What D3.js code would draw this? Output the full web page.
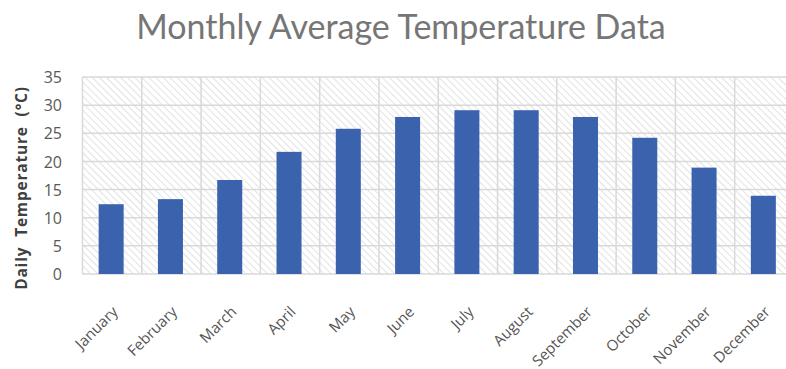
<!DOCTYPE html>
<html>
<head>
<meta charset="utf-8">
<script src="https://cdn.jsdelivr.net/npm/d3@7/dist/d3.min.js"></script>
<style>
  html, body { margin: 0; padding: 0; background: #fff; overflow: hidden; }
  svg { display: block; }
</style>
</head>
<body>
<svg id="chart" width="786" height="369"></svg>
<script>
// Monthly average temperatures (°C)
const months = ["January", "February", "March", "April", "May", "June",
  "July", "August", "September", "October", "November", "December"];
const temps = [12.4, 13.3, 16.7, 21.7, 25.8, 27.9, 29.1, 29.1, 27.9, 24.2, 18.9, 13.9];
const yTicks = [0, 5, 10, 15, 20, 25, 30, 35];

const svg = d3.select("#chart");
const margin = { left: 82.5, top: 77, bottom: 274 };
const plotRight = 794;

const x = d3.scaleBand().domain(months).range([margin.left, plotRight]).paddingInner(0).paddingOuter(0);
const y = d3.scaleLinear().domain([0, 35]).range([margin.bottom, margin.top]);

// Diagonal hatch fill for the plot area
const defs = svg.append("defs");
const pat = defs.append("pattern")
  .attr("id", "hatch").attr("patternUnits", "userSpaceOnUse")
  .attr("width", 5).attr("height", 5)
  .attr("patternTransform", "rotate(-45)");
pat.append("rect").attr("width", 5).attr("height", 5).attr("fill", "#ffffff");
pat.append("line").attr("x1", 0).attr("y1", 0).attr("x2", 0).attr("y2", 5)
  .attr("stroke", "#d6d6d6").attr("stroke-width", 1.4);

svg.append("rect")
  .attr("x", margin.left).attr("y", margin.top)
  .attr("width", plotRight - margin.left).attr("height", margin.bottom - margin.top)
  .attr("fill", "url(#hatch)");

// Horizontal gridlines
svg.append("g").selectAll("line").data(yTicks).join("line")
  .attr("x1", margin.left).attr("x2", plotRight)
  .attr("y1", d => y(d)).attr("y2", d => y(d))
  .attr("stroke", "#d9d9d9").attr("stroke-width", 1.5);

// Vertical gridlines at category boundaries
const bounds = months.map(m => x(m)).concat([plotRight]);
svg.append("g").selectAll("line").data(bounds).join("line")
  .attr("x1", d => d).attr("x2", d => d)
  .attr("y1", margin.top).attr("y2", margin.bottom)
  .attr("stroke", "#d9d9d9").attr("stroke-width", 1.5);

// Bars
const barW = 25;
svg.append("g").selectAll("rect").data(temps).join("rect")
  .attr("x", (d, i) => x(months[i]) + x.bandwidth() / 2 - barW / 2 - 1)
  .attr("y", d => y(d))
  .attr("width", barW)
  .attr("height", d => y(0) - y(d))
  .attr("fill", "#3a62ad");

// Y axis tick labels
const yAxis = d3.axisLeft(y).tickValues(yTicks).tickSize(0).tickPadding(0);
const yg = svg.append("g").attr("transform", "translate(62,0)").call(yAxis);
yg.select(".domain").remove();
yg.selectAll("text")
  .attr("font-family", "Open Sans, sans-serif").attr("font-size", 16)
  .attr("fill", "#595959").attr("dy", "0.35em");

// X axis labels, rotated
const xAxis = d3.axisBottom(x).tickSize(0).tickPadding(0);
const xg = svg.append("g").attr("transform", `translate(0,${margin.bottom})`).call(xAxis);
xg.select(".domain").remove();
xg.selectAll("text")
  .attr("font-family", "Open Sans, sans-serif").attr("font-size", 15)
  .attr("fill", "#555555")
  .attr("text-anchor", "end")
  .attr("transform", "translate(3,35) rotate(-45)")
  .attr("dy", "0.35em").attr("y", 0).attr("x", 0);

// Title
svg.append("text")
  .attr("x", 401).attr("y", 39)
  .attr("text-anchor", "middle")
  .attr("font-family", "Lato, sans-serif").attr("font-size", 34)
  .attr("fill", "#767676")
  .text("Monthly Average Temperature Data");

// Y axis title
svg.append("text")
  .attr("transform", "translate(27,188) rotate(-90)")
  .attr("text-anchor", "middle")
  .attr("font-family", "Open Sans, sans-serif").attr("font-size", 15.5)
  .attr("font-weight", "bold").attr("fill", "#404040")
  .attr("letter-spacing", 0.8).attr("word-spacing", 5)
  .text("Daily Temperature (°C)");
</script>
</body>
</html>
